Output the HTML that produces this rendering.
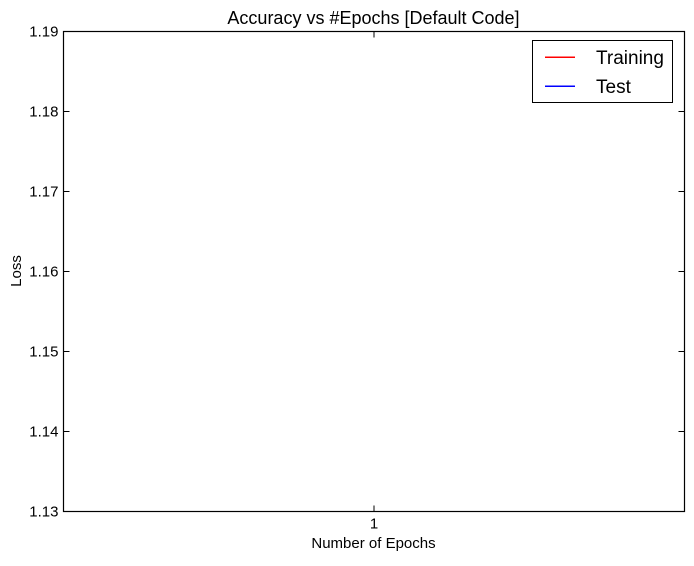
<!DOCTYPE html>
<html><head><meta charset="utf-8"><style>
html,body{margin:0;padding:0;background:#fff;}
svg text{font-family:"Liberation Sans",Arial,sans-serif;fill:#000;}
</style></head><body>
<svg width="694" height="561" viewBox="0 0 694 561" xmlns="http://www.w3.org/2000/svg">
<rect width="694" height="561" fill="#fff"/>
<text x="373.5" y="24" font-size="18" text-anchor="middle">Accuracy vs #Epochs [Default Code]</text>
<g id="yticks"></g>
<g id="xticks"></g>
<g id="series"></g>
<rect x="63.5" y="31.5" width="621" height="480" fill="none" stroke="#000" stroke-width="1.2"/>
<text x="373.5" y="548" font-size="15" text-anchor="middle">Number of Epochs</text>
<text transform="translate(21,271) rotate(-90)" font-size="15" text-anchor="middle">Loss</text>
<g>
<rect x="532.5" y="40.5" width="140" height="62" fill="#fff" stroke="#000" stroke-width="1"/>
<rect x="545" y="56.5" width="30" height="1.5" fill="#ff0000"/>
<text x="596" y="64" font-size="19">Training</text>
<rect x="545" y="85.5" width="30" height="1.5" fill="#0000ff"/>
<text x="596" y="93" font-size="19">Test</text>
</g>
</svg>
<script>
const epochs = [1];
const trainingLoss = [1.16];
const testLoss = [1.16];
const yTickLabels = ["1.13","1.14","1.15","1.16","1.17","1.18","1.19"];
const yTickValues = [1.13,1.14,1.15,1.16,1.17,1.18,1.19];
const xTickValues = [1];

const L=63.5,R=684.5,T=31.5,B=511.5;
const yMin=1.13,yMax=1.19;
const xMin=0.5,xMax=1.5;
function y(v){return B-(v-yMin)/(yMax-yMin)*(B-T);}
function x(v){return L+(v-xMin)/(xMax-xMin)*(R-L);}
const NS="http://www.w3.org/2000/svg";
const yg=document.getElementById('yticks');
yTickValues.forEach((v,i)=>{
  const yy=y(v);
  [[L,L+6],[R-6,R]].forEach(([a,b])=>{
    const ln=document.createElementNS(NS,'line');
    ln.setAttribute('x1',a);ln.setAttribute('x2',b);ln.setAttribute('y1',yy);ln.setAttribute('y2',yy);
    ln.setAttribute('stroke','#000');
    
    
    yg.appendChild(ln);
  });
  const t=document.createElementNS(NS,'text');
  t.setAttribute('x',L-5);t.setAttribute('y',yy+5);t.setAttribute('font-size','15');t.setAttribute('text-anchor','end');
  t.textContent=yTickLabels[i];
  
  
  yg.appendChild(t);
});
const xg=document.getElementById('xticks');
xTickValues.forEach(v=>{
  const xx=x(v);
  [[B,B-6],[T,T+6]].forEach(([a,b])=>{
    const ln=document.createElementNS(NS,'line');
    ln.setAttribute('x1',xx);ln.setAttribute('x2',xx);ln.setAttribute('y1',a);ln.setAttribute('y2',b);
    ln.setAttribute('stroke','#000');
    
    
    xg.appendChild(ln);
  });
  const t=document.createElementNS(NS,'text');
  t.setAttribute('x',xx);t.setAttribute('y',B+17);t.setAttribute('font-size','15');t.setAttribute('text-anchor','middle');
  t.textContent=String(v);
  
  
  xg.appendChild(t);
});
const sg=document.getElementById('series');
[[trainingLoss,'#ff0000','training-line'],[testLoss,'#0000ff','test-line']].forEach(([vals,c,n])=>{
  const p=document.createElementNS(NS,'path');
  p.setAttribute('d',vals.map((v,i)=>(i?'L':'M')+x(epochs[i])+','+y(v)).join(' '));
  p.setAttribute('fill','none');p.setAttribute('stroke',c);p.setAttribute('stroke-width','1.2');
  
  
  sg.appendChild(p);
});
</script>
</body></html>
